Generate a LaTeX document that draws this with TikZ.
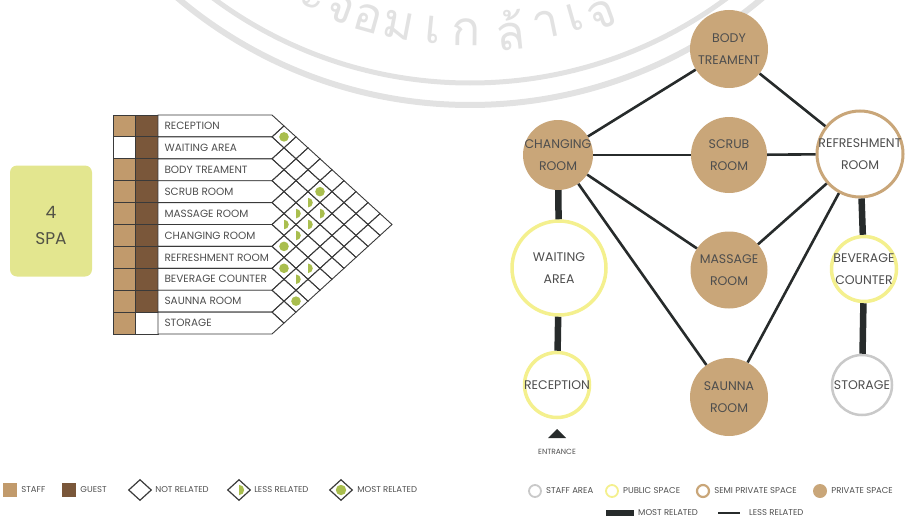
\documentclass[tikz,border=0pt]{standalone}
\usepackage{fontspec}
\setmainfont{Poppins}
\newfontfamily\thaifont[Script=Thai]{Loma}
\usetikzlibrary{positioning,shapes.geometric}
\definecolor{staffbrown}{HTML}{C19A6C}
\definecolor{guestbrown}{HTML}{7A573A}
\definecolor{privtan}{HTML}{C9A679}
\definecolor{pubyellow}{HTML}{F4F08E}
\definecolor{staffgray}{HTML}{C9C9C9}
\definecolor{dotgreen}{HTML}{A9BE4E}
\definecolor{spagreen}{HTML}{E3E68F}
\definecolor{linedark}{HTML}{272B2B}
\definecolor{celldark}{HTML}{3A3A3A}
\definecolor{labelgray}{HTML}{4E4E4E}
\definecolor{wmgray}{HTML}{E2E2E2}
\tikzset{
  cellline/.style={draw=celldark, line width=0.9pt},
  rowtext/.style={anchor=west, font=\fontsize{10.5}{11}\selectfont, text=labelgray},
  roomtext/.style={align=center, font=\fontsize{12.5}{22}\selectfont, text=labelgray},
  legtext/.style={font=\fontsize{8.5}{9}\selectfont, text=labelgray, inner sep=0pt},
  private/.style={circle, fill=privtan, inner sep=0pt},
  semiprivate/.style={circle, draw=privtan, line width=3pt, fill=white, inner sep=0pt},
  public/.style={circle, draw=pubyellow, line width=3.5pt, fill=white, inner sep=0pt},
  staffarea/.style={circle, draw=staffgray, line width=2.5pt, fill=white, inner sep=0pt},
  less/.style={draw=linedark, line width=2.6pt},
  most/.style={draw=linedark, line width=6.5pt},
  legdiamond/.style={diamond, draw=celldark, line width=1.2pt, minimum width=23, minimum height=21, inner sep=0pt},
}
\begin{document}
\begin{tikzpicture}[x=1pt,y=-1pt]
\useasboundingbox (0,0) rectangle (907,519);

% watermark
\begin{scope}
\clip (0,0) rectangle (907,519);
\coordinate (wm) at (470,-348);
\draw[wmgray, line width=6pt] (wm) circle (453);
\draw[wmgray, line width=5pt] (wm) circle (431);
\foreach \ch/\a in {ะ/114.4, จ/110, อ/105.6, ม/100.8, เ/95.6, ก/90.6, ล้/84, า/78.4, เ/74, จ้/70}
  \node[font=\thaifont\fontsize{48}{48}\selectfont, text=wmgray, rotate=90-\a] at ([shift={(\a:380)}]wm) {\ch};
\end{scope}

% spa box
\node[fill=spagreen, rounded corners=7pt, minimum width=82, minimum height=111] (spa) at (51,221) {};
\node[align=center, font=\fontsize{17}{26}\selectfont, text=labelgray!90!olive] at (51,225) {4\\SPA};

% matrix rows
\foreach \name/\staff/\guest [count=\i from 0] in {RECEPTION/staffbrown/guestbrown, WAITING AREA/white/guestbrown, BODY TREAMENT/staffbrown/guestbrown, SCRUB ROOM/staffbrown/guestbrown, MASSAGE ROOM/staffbrown/guestbrown, CHANGING ROOM/staffbrown/guestbrown, REFRESHMENT ROOM/staffbrown/guestbrown, BEVERAGE COUNTER/staffbrown/guestbrown, SAUNNA ROOM/staffbrown/guestbrown, STORAGE/staffbrown/white}{
  \pgfmathsetmacro\yt{115+21.9*\i}
  \pgfmathsetmacro\yc{\yt+10.95}
  \pgfmathsetmacro\yb{\yt+21.9}
  \draw[cellline, fill=\staff] (113,\yt) rectangle (135.5,\yb);
  \draw[cellline, fill=\guest] (135.5,\yt) rectangle (158,\yb);
  \draw[cellline, fill=white] (158,\yt) -- (272,\yt) -- (284,\yc) -- (272,\yb) -- (158,\yb) -- cycle;
  \node[rowtext] (row\i) at (161,\yc) {\name};
}

% relation cells
\foreach \i in {0,...,8}{
  \pgfmathtruncatemacro\jfirst{\i+1}
  \foreach \j in {\jfirst,...,9}{
    \pgfmathsetmacro\cx{284+12*(\j-\i-1)}
    \pgfmathsetmacro\cy{115+21.9*((\i+\j)/2+0.5)}
    \draw[cellline] (\cx-12,\cy) -- (\cx,\cy-10.95) -- (\cx+12,\cy) -- (\cx,\cy+10.95) -- cycle;
  }
}
% most related
\foreach \i/\j in {0/1, 1/5, 5/6, 6/7, 7/9}{
  \pgfmathsetmacro\cx{284+12*(\j-\i-1)}
  \pgfmathsetmacro\cy{115+21.9*((\i+\j)/2+0.5)}
  \fill[dotgreen] (\cx,\cy) circle (4.8);
}
% less related
\foreach \i/\j in {2/5, 2/6, 3/5, 4/5, 3/6, 4/6, 5/8, 6/8}{
  \pgfmathsetmacro\cx{284+12*(\j-\i-1)}
  \pgfmathsetmacro\cy{115+21.9*((\i+\j)/2+0.5)}
  \fill[dotgreen] (\cx,\cy-4.8) arc (-90:90:4.8) -- cycle;
}

% matrix legend
\node[fill=staffbrown, minimum size=14, inner sep=0pt] (lgstaff) at (10,490) {};
\node[legtext, right=4pt of lgstaff] {STAFF};
\node[fill=guestbrown, minimum size=14, inner sep=0pt] (lgguest) at (69,490) {};
\node[legtext, right=4pt of lgguest] {GUEST};
\node[legdiamond] (lgnot) at (140,490) {};
\node[legtext, right=3pt of lgnot] {NOT RELATED};
\node[legdiamond] (lgless) at (239,490) {};
\fill[dotgreen] (239,484.8) arc (-90:90:5.2) -- cycle;
\node[legtext, right=3pt of lgless] {LESS RELATED};
\node[legdiamond] (lgmost) at (341,490) {};
\fill[dotgreen] (lgmost) circle (5.2);
\node[legtext, right=4pt of lgmost] {MOST RELATED};

% bubble diagram
\node[private, minimum size=78, label={[roomtext]center:BODY\\TREAMENT}] (body) at (729,49) {};
\node[private, minimum size=70, label={[roomtext]center:CHANGING\\ROOM}] (changing) at (558,155) {};
\node[private, minimum size=76, label={[roomtext]center:SCRUB\\ROOM}] (scrub) at (729,155) {};
\node[semiprivate, minimum size=86, label={[roomtext]center:REFRESHMENT\\ROOM}] (refresh) at (860,154) {};
\node[public, minimum size=94, label={[roomtext]center:WAITING\\AREA}] (waiting) at (559,268) {};
\node[private, minimum size=77, label={[roomtext]center:MASSAGE\\ROOM}] (massage) at (729,270) {};
\node[public, minimum size=65, label={[roomtext]center:BEVERAGE\\COUNTER}] (beverage) at (864,269) {};
\node[public, minimum size=65, label={[roomtext]center:RECEPTION}] (reception) at (557,385) {};
\node[private, minimum size=78, label={[roomtext]center:SAUNNA\\ROOM}] (sauna) at (729,397) {};
\node[staffarea, minimum size=60, label={[roomtext]center:STORAGE}] (storage) at (862,385) {};

\draw[most] (changing) -- (waiting);
\draw[most] (waiting) -- (reception);
\draw[most] (refresh) -- (beverage);
\draw[most] (beverage) -- (storage);
\draw[less] (body) -- (changing);
\draw[less] (body) -- (refresh);
\draw[less] (changing) -- (scrub);
\draw[less] (scrub) -- (refresh);
\draw[less] (changing) -- (massage);
\draw[less] (changing) -- (sauna);
\draw[less] (refresh) -- (massage);
\draw[less] (refresh) -- (sauna);

% entrance
\fill[linedark] (548,438) -- (566,438) -- (557,429) -- cycle;
\node[legtext, font=\fontsize{7.5}{8}\selectfont] (entrance) at (557,452) {ENTRANCE};

% bubble legend
\node[staffarea, line width=1.8pt, minimum size=12] (lgarea) at (535,491) {};
\node[legtext, right=4pt of lgarea] {STAFF AREA};
\node[public, line width=1.8pt, minimum size=12] (lgpublic) at (612,491) {};
\node[legtext, right=4pt of lgpublic] {PUBLIC SPACE};
\node[semiprivate, line width=2.2pt, minimum size=12] (lgsemi) at (703,491) {};
\node[legtext, right=4pt of lgsemi] {SEMI PRIVATE SPACE};
\node[private, minimum size=14] (lgprivate) at (820,491) {};
\node[legtext, right=4pt of lgprivate] {PRIVATE SPACE};
\coordinate (mosta) at (606,513);
\coordinate (mostb) at (634,513);
\draw[most] (mosta) -- (mostb);
\node[legtext, right=4pt of mostb] {MOST RELATED};
\coordinate (lessa) at (718,513);
\coordinate (lessb) at (740,513);
\draw[less] (lessa) -- (lessb);
\node[legtext, right=9pt of lessb] {LESS RELATED};
\end{tikzpicture}
\end{document}
